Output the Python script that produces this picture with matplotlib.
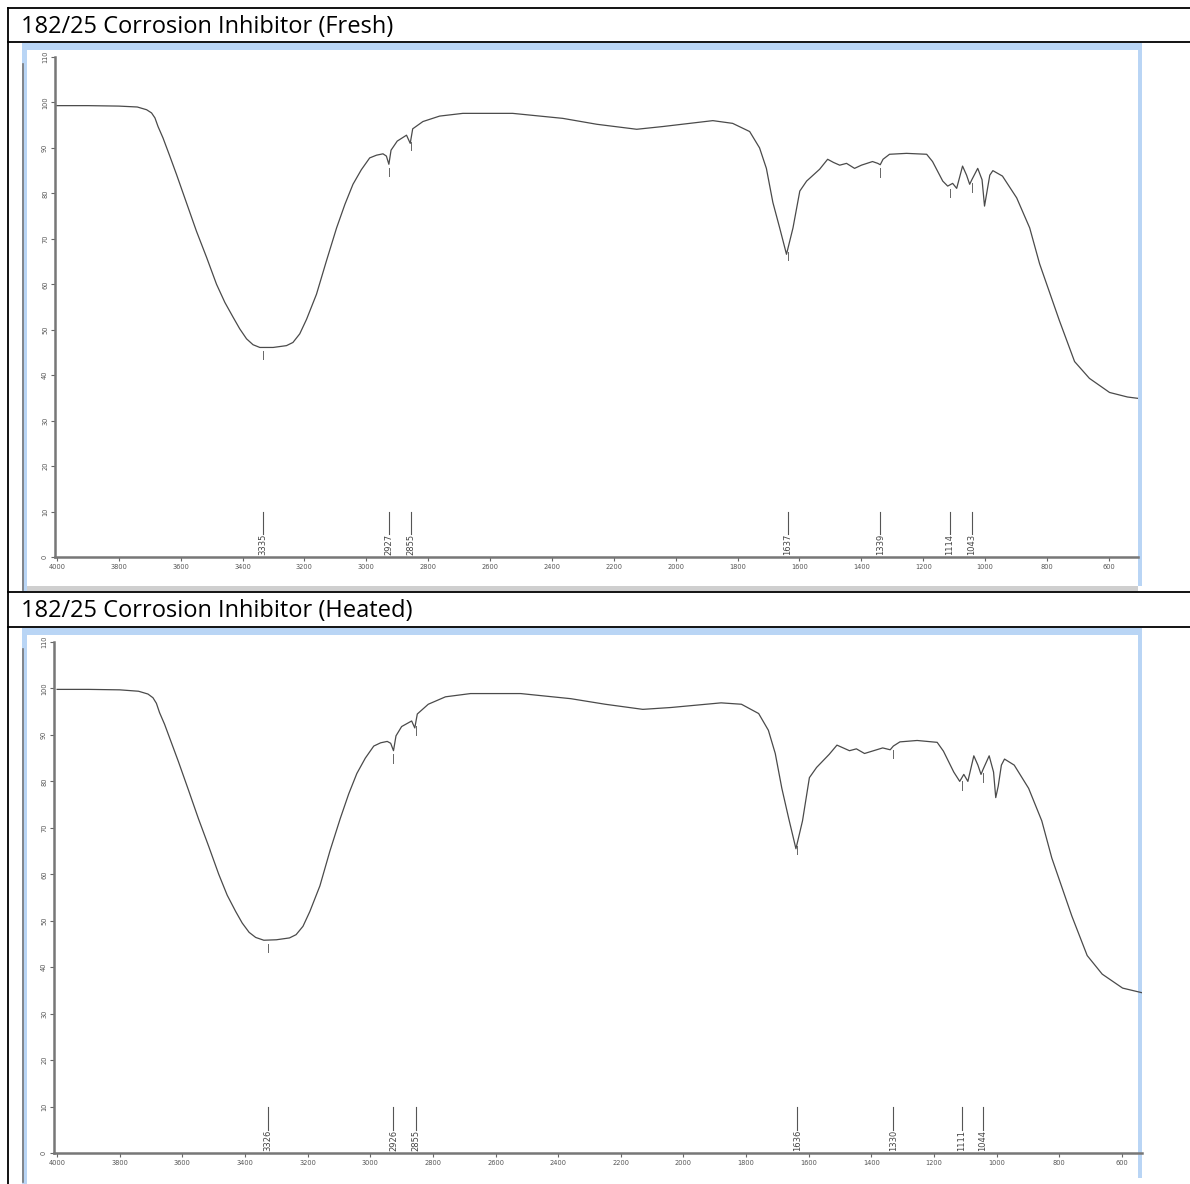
import numpy as np
import matplotlib.pyplot as plt
from matplotlib.patches import Rectangle
from matplotlib.lines import Line2D

W, H = 1190, 1184

# FTIR spectrum, fresh sample (wavenumber cm-1, %T)
fresh_wn = [4000, 3900, 3800, 3740, 3710, 3694, 3683, 3673, 3657, 3635, 3613, 3581, 3549, 3516,
            3484, 3457, 3430, 3409, 3387, 3366, 3344, 3301, 3258, 3237, 3215, 3193, 3161, 3129,
            3096, 3069, 3043, 3016, 2989, 2967, 2946, 2935, 2927, 2920, 2900, 2870, 2858, 2850,
            2817, 2763, 2688, 2527, 2365, 2255, 2126, 2042, 1880, 1816, 1761, 1729, 1707, 1686,
            1664, 1642, 1621, 1599, 1577, 1535, 1509, 1490, 1470, 1448, 1422, 1400, 1364,
            1347, 1339, 1330, 1309, 1254, 1189, 1170, 1137, 1121, 1105, 1092, 1073, 1060, 1050,
            1043, 1024, 1010, 1002, 995, 985, 975, 944, 898, 856, 824, 760, 711, 663, 598, 540, 506]
fresh_t = [99.3, 99.3, 99.2, 99.0, 98.4, 97.7, 96.6, 94.7, 92.2, 88.2, 84.1, 77.9, 71.7, 65.9,
           60.0, 56.0, 52.7, 50.2, 48.0, 46.7, 46.1, 46.1, 46.5, 47.2, 49.1, 52.3, 57.8, 65.1,
           72.4, 77.6, 82.0, 85.2, 87.8, 88.4, 88.7, 88.2, 86.4, 89.5, 91.5, 92.8, 91.0, 94.2,
           95.8, 97.0, 97.6, 97.6, 96.5, 95.2, 94.1, 94.7, 96.0, 95.4, 93.6, 90.0, 85.5, 78.0,
           72.4, 66.6, 72.4, 80.5, 82.7, 85.3, 87.5, 86.8, 86.2, 86.6, 85.5, 86.2, 87.0,
           86.6, 86.3, 87.5, 88.6, 88.8, 88.6, 87.0, 82.7, 81.6, 82.2, 81.1, 86.0, 84.0, 82.0,
           83.0, 85.5, 83.0, 77.2, 80.0, 84.0, 85.0, 83.8, 79.0, 72.4, 64.5, 52.0, 43.0, 39.3,
           36.2, 35.2, 34.9]
fresh_peaks = [3335, 2927, 2855, 1637, 1339, 1114, 1043]

# heated sample
heated_wn = [4000, 3900, 3800, 3740, 3710, 3694, 3683, 3673, 3657, 3635, 3613, 3581, 3549, 3516,
             3484, 3457, 3430, 3409, 3387, 3366, 3340, 3300, 3258, 3237, 3215, 3193, 3161, 3129,
             3096, 3069, 3043, 3016, 2989, 2967, 2946, 2935, 2926, 2918, 2900, 2868, 2858, 2850,
             2815, 2760, 2680, 2520, 2360, 2250, 2130, 2040, 1880, 1815, 1760, 1729, 1707, 1686,
             1664, 1641, 1620, 1598, 1575, 1535, 1510, 1470, 1448, 1422, 1364, 1340, 1330,
             1309, 1254, 1190, 1170, 1137, 1118, 1105, 1092, 1073, 1060, 1050, 1044, 1024, 1010,
             1003, 995, 985, 975, 944, 898, 856, 824, 760, 711, 663, 598, 536]
heated_t = [99.8, 99.8, 99.7, 99.4, 98.8, 98.0, 96.8, 94.8, 92.3, 88.3, 84.3, 78.2, 72.0, 66.0,
            60.0, 55.5, 52.0, 49.5, 47.5, 46.4, 45.8, 45.9, 46.3, 47.0, 48.8, 52.0, 57.5, 65.0,
            72.0, 77.3, 81.7, 85.0, 87.6, 88.3, 88.6, 88.2, 86.6, 89.8, 91.8, 93.0, 91.5, 94.5,
            96.6, 98.2, 98.9, 98.9, 97.8, 96.6, 95.5, 95.9, 96.9, 96.6, 94.6, 91.0, 86.0, 78.5,
            72.0, 65.5, 71.5, 80.8, 83.0, 85.8, 87.8, 86.6, 87.0, 86.0, 87.2, 86.8, 87.6,
            88.5, 88.8, 88.4, 86.5, 82.0, 80.0, 81.5, 80.0, 85.5, 83.5, 81.5, 82.5, 85.5, 82.0,
            76.5, 79.0, 83.5, 84.8, 83.5, 78.5, 71.5, 63.5, 51.0, 42.5, 38.5, 35.5, 34.5]
heated_peaks = [3326, 2926, 2855, 1636, 1330, 1111, 1044]

titles = ["182/25 Corrosion Inhibitor (Fresh)", "182/25 Corrosion Inhibitor (Heated)"]
xticks = [4000, 3800, 3600, 3400, 3200, 3000, 2800, 2600, 2400, 2200, 2000, 1800, 1600, 1400,
          1200, 1000, 800, 600]
yticks = [0, 10, 20, 30, 40, 50, 60, 70, 80, 90, 100, 110]

fig = plt.figure(figsize=(W / 100, H / 100), dpi=100)


def fx(x):
    return x / W


def fy(y):
    return 1 - y / H


def hline(y, x0, x1, color="black", lw=1.3):
    fig.add_artist(Line2D([fx(x0), fx(x1)], [fy(y), fy(y)], color=color, lw=lw))


def vline(x, y0, y1, color="black", lw=1.3):
    fig.add_artist(Line2D([fx(x), fx(x)], [fy(y0), fy(y1)], color=color, lw=lw))


def box(x0, y0, x1, y1, color):
    fig.add_artist(Rectangle((fx(x0), fy(y1)), fx(x1) - fx(x0), fy(y0) - fy(y1),
                             facecolor=color, edgecolor="none"))


# table lines around the two screenshots
hline(8, 8, 1190)
hline(42, 8, 1190)
hline(592, 8, 1190)
hline(627, 8, 1190)
vline(8, 8, 1184)

# screenshot frames
blue = "#b9d5f5"
for top, bottom, right in [(42, 592, 1142), (627, 1184, 1142)]:
    box(22, top + 1, right, bottom, "white")
    box(22, top + 1, right, top + 8, blue)
    box(22, top + 1, 27, bottom, blue)
    box(right - 4, top + 1, right, bottom - 6, blue)
    vline(23, top + 22, bottom - 2, color="#777777", lw=1.2)
    if bottom < 1184:
        box(27, bottom - 6, right - 4, bottom - 1, "#cfcfcf")

fig.text(fx(21), fy(27), titles[0], fontsize=17, family="Open Sans", va="center", ha="left")
fig.text(fx(21), fy(611), titles[1], fontsize=17, family="Open Sans", va="center", ha="left")

panels = [
    (fresh_wn, fresh_t, fresh_peaks, [55, 57, 1138, 557], (4006, 506)),
    (heated_wn, heated_t, heated_peaks, [54, 642, 1142, 1153], (4010, 536)),
]

for wn, t, peaks, (l, tp, r, b), xl in panels:
    ax = fig.add_axes([fx(l), fy(b), fx(r) - fx(l), fy(tp) - fy(b)])
    ax.set_zorder(5)
    ax.patch.set_alpha(0)
    ax.plot(wn, t, color="#4a4a4a", lw=0.9)
    ax.set_xlim(*xl)
    ax.set_ylim(0, 110)
    ax.set_xticks(xticks)
    ax.set_yticks(yticks)
    ax.tick_params(axis="both", labelsize=4.8, labelcolor="#555555", color="#666666",
                   length=3, width=0.8, pad=2)
    for lab in ax.get_yticklabels():
        lab.set_rotation(90)
        lab.set_va("center")
    for s in ["top", "right"]:
        ax.spines[s].set_visible(False)
    for s in ["left", "bottom"]:
        ax.spines[s].set_color("#777777")
        ax.spines[s].set_linewidth(1.8)

    for p in peaks:
        # peak label stick at the bottom
        ax.plot([p, p], [10, 5.0], color="#555555", lw=0.8)
        ax.text(p, 0.4, str(p), rotation=90, fontsize=6, color="#444444",
                ha="center", va="bottom")
        # small tick under the curve at the peak
        yc = np.interp(p, wn[::-1], t[::-1])
        ax.plot([p, p], [yc - 0.8, yc - 2.6], color="#666666", lw=0.7)

fig.savefig("out.png", dpi=100)
